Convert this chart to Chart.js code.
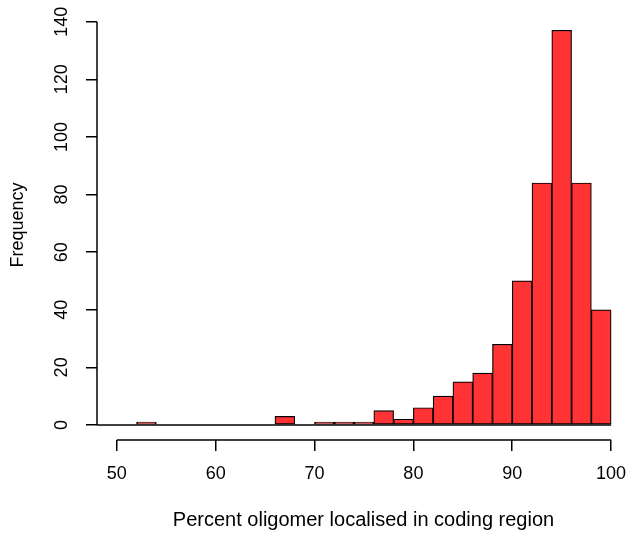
<!DOCTYPE html>
<html>
<head>
<meta charset="utf-8">
<script src="https://cdn.jsdelivr.net/npm/chart.js@4/dist/chart.umd.min.js"></script>
<style>
  html, body { margin: 0; padding: 0; background: #fff; }
  #wrap { width: 630px; height: 537px; }
</style>
</head>
<body>
<div id="wrap"><canvas id="canvas"></canvas></div>
<script>
// histogram bins (width 2) and counts
const binStarts = [48, 50, 52, 54, 56, 58, 60, 62, 64, 66, 68, 70, 72, 74, 76, 78, 80, 82, 84, 86, 88, 90, 92, 94, 96, 98];
const counts    = [0, 0, 1, 0, 0, 0, 0, 0, 0, 3, 0, 1, 1, 1, 5, 2, 6, 10, 15, 18, 28, 50, 84, 137, 84, 40];
const binWidth = 2;
const xTicks = [50, 60, 70, 80, 90, 100];
const yTicks = [0, 20, 40, 60, 80, 100, 120, 140];

const fontFam = '"Liberation Sans", Arial, Helvetica, sans-serif';

// R style axes: lines only over the tick range, rotated y labels
const rAxes = {
    id: 'rAxes',
    afterDraw(chart) {
        const ctx = chart.ctx;
        const xs = chart.scales.x;
        const ys = chart.scales.y;
        const area = chart.chartArea;
        ctx.save();
        ctx.strokeStyle = '#000';
        ctx.lineWidth = 1.5;

        // baseline under the bars (zero-count bins)
        let y0 = ys.getPixelForValue(0);
        ctx.beginPath();
        ctx.moveTo(xs.getPixelForValue(binStarts[0]), y0);
        ctx.lineTo(xs.getPixelForValue(binStarts[binStarts.length - 1] + binWidth), y0);
        ctx.stroke();

        // x axis line
        let yb = area.bottom;
        ctx.beginPath();
        ctx.moveTo(xs.getPixelForValue(xTicks[0]), yb);
        ctx.lineTo(xs.getPixelForValue(xTicks[xTicks.length - 1]), yb);
        ctx.stroke();

        // y axis line
        let xl = area.left;
        ctx.beginPath();
        ctx.moveTo(xl, ys.getPixelForValue(yTicks[0]));
        ctx.lineTo(xl, ys.getPixelForValue(yTicks[yTicks.length - 1]));
        ctx.stroke();

        // y tick labels, vertical
        ctx.fillStyle = '#000';
        ctx.font = '18px ' + fontFam;
        ctx.textAlign = 'center';
        ctx.textBaseline = 'middle';
        for (let v of yTicks) {
            ctx.save();
            ctx.translate(area.left - 35, ys.getPixelForValue(v));
            ctx.rotate(-Math.PI / 2);
            ctx.fillText(String(v), 0, 0);
            ctx.restore();
        }
        ctx.restore();
    }
};

let ctx = document.getElementById('canvas').getContext('2d');
let myChart = new Chart(ctx, {
    type: 'bar',
    data: {
        datasets: [{
            label: 'Frequency',
            data: binStarts.map((b, i) => ({x: b + binWidth / 2, y: counts[i]})),
            backgroundColor: '#FF3333',
            borderColor: '#000',
            borderWidth: 1.2,
            borderSkipped: false,
            barPercentage: 1,
            categoryPercentage: 1
        }]
    },
    options: {
        responsive: true,
        maintainAspectRatio: false,
        animation: false,
        layout: { padding: { top: 10, right: 0, bottom: 0, left: 0 } },
        plugins: {
            legend: { display: false },
            tooltip: { enabled: false }
        },
        scales: {
            x: {
                type: 'linear',
                offset: false,
                min: 48,
                max: 101.91,
                afterBuildTicks: (s) => { s.ticks = xTicks.map(v => ({value: v})); },
                afterFit: (s) => {
                    s.height = 97;
                    s.paddingLeft = 0;
                    s.paddingRight = 0;
                },
                border: { display: false },
                grid: { offset: false, drawOnChartArea: false, drawTicks: true, tickLength: 11, color: '#000', lineWidth: 1.5 },
                ticks: {
                    padding: 12,
                    color: '#000',
                    font: { family: fontFam, size: 18 },
                    maxRotation: 0
                },
                title: {
                    display: true,
                    text: 'Percent oligomer localised in coding region',
                    color: '#000',
                    font: { family: fontFam, size: 20 },
                    padding: { top: 0, bottom: 5 }
                }
            },
            y: {
                min: -5.21,
                max: 144.05,
                afterBuildTicks: (s) => { s.ticks = yTicks.map(v => ({value: v})); },
                afterFit: (s) => {
                    s.width = 97;
                    s.paddingTop = 0;
                    s.paddingBottom = 0;
                },
                border: { display: false },
                grid: { drawOnChartArea: false, drawTicks: true, tickLength: 11, color: '#000', lineWidth: 1.5 },
                ticks: { display: false },
                title: {
                    display: true,
                    text: 'Frequency',
                    color: '#000',
                    font: { family: fontFam, size: 18 },
                    padding: { top: 7, bottom: 0 }
                }
            }
        }
    },
    plugins: [rAxes]
});
</script>
</body>
</html>
